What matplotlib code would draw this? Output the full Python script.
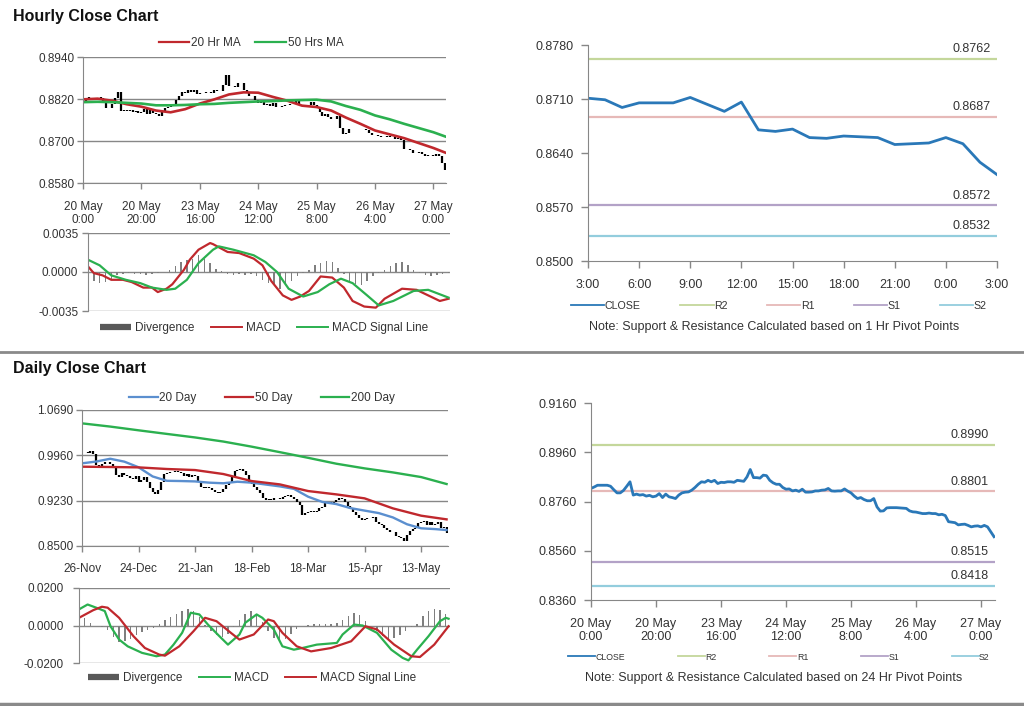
import numpy as np
import matplotlib.pyplot as plt
from matplotlib.lines import Line2D
from matplotlib.ticker import FormatStrFormatter

plt.rcParams['font.family'] = ['Liberation Sans', 'DejaVu Sans']

# ---------------- data ----------------
# hourly closes, 20 May 0:00 -> 27 May ~4:00 (used top-left and bottom-right)
hourly_close = [
    0.8813, 0.8819, 0.8826, 0.8826, 0.8826, 0.8826, 0.8822, 0.8808, 0.8795, 0.8795,
    0.8805, 0.8822, 0.8840, 0.8786, 0.8790, 0.8786, 0.8788, 0.8782, 0.8785, 0.8779,
    0.8782, 0.8792, 0.8776, 0.8790, 0.8779, 0.8776, 0.8772, 0.8786, 0.8795, 0.8798,
    0.8799, 0.8806, 0.8817, 0.8830, 0.8840, 0.8838, 0.8846, 0.8840, 0.8846, 0.8833,
    0.8838, 0.8837, 0.8840, 0.8840, 0.8838, 0.8846, 0.8844, 0.8842, 0.8860, 0.8890,
    0.8857, 0.8857, 0.8855, 0.8867, 0.8865, 0.8846, 0.8836, 0.8830, 0.8830, 0.8817,
    0.8810, 0.8811, 0.8803, 0.8806, 0.8801, 0.8810, 0.8798, 0.8798, 0.8799, 0.8803,
    0.8803, 0.8806, 0.8807, 0.8813, 0.8803, 0.8802, 0.8803, 0.8803, 0.8811, 0.8802,
    0.8795, 0.8782, 0.8772, 0.8776, 0.8768, 0.8763, 0.8763, 0.8772, 0.8738, 0.8721,
    0.8722, 0.8734, 0.8735, 0.8735, 0.8735, 0.8734, 0.8733, 0.8732, 0.8722, 0.8718,
    0.8717, 0.8714, 0.8711, 0.8711, 0.8713, 0.8711, 0.8711, 0.8706, 0.8708, 0.8703,
    0.8678, 0.8676, 0.8674, 0.8665, 0.8667, 0.8668, 0.8663, 0.8657, 0.8660, 0.8661,
    0.8657, 0.8663, 0.8657, 0.8637, 0.8617]
hourly_tick_pos = [0, 20, 40, 60, 80, 100, 120]
hourly_tick_labels = ['20 May\n0:00', '20 May\n20:00', '23 May\n16:00', '24 May\n12:00',
                      '25 May\n8:00', '26 May\n4:00', '27 May\n0:00']

hr_ma_pos = [0, 5, 10, 15, 20, 25, 30, 35, 40, 45, 50, 55, 60, 65, 70, 75, 80, 85, 90,
             95, 100, 105, 110, 115, 120, 124]
hr_ma20 = [0.8819, 0.8821, 0.8815, 0.8805, 0.8798, 0.8787, 0.8782, 0.8791, 0.8807, 0.8819,
           0.8833, 0.8839, 0.8838, 0.8826, 0.8815, 0.8801, 0.8797, 0.8787, 0.8767, 0.8749,
           0.8730, 0.8719, 0.8708, 0.8694, 0.8680, 0.8667]
hr_ma50 = [0.8811, 0.8812, 0.8811, 0.8809, 0.8807, 0.8802, 0.8802, 0.8803, 0.8805, 0.8806,
           0.8809, 0.8811, 0.8813, 0.8814, 0.8816, 0.8817, 0.8818, 0.8813, 0.8800, 0.8789,
           0.8773, 0.8762, 0.8749, 0.8737, 0.8725, 0.8713]

hr_macd_pos = [0, 2, 5, 8, 12, 15, 19, 22, 24, 27, 29, 33, 35, 38, 42, 43, 48, 52, 57, 60,
               63, 67, 70, 73, 76, 80, 84, 88, 91, 95, 99, 102, 108, 113, 117, 121, 124]
hr_macd = [0.0005, -0.0001, -0.0003, -0.0007, -0.0007, -0.0009, -0.0014, -0.0014, -0.0018,
           -0.0015, -0.0011, 0.0002, 0.0011, 0.0020, 0.0026, 0.0025, 0.0018, 0.0017, 0.0012,
           0.0006, -0.0008, -0.0021, -0.0025, -0.0022, -0.0017, -0.0004, -0.0005, -0.0014,
           -0.0026, -0.0031, -0.0032, -0.0024, -0.0015, -0.0016, -0.0021, -0.0026, -0.0024]
hr_signal_pos = [0, 4, 8, 13, 18, 22, 27, 30, 34, 38, 43, 45, 50, 57, 61, 65, 69, 74, 79,
                 83, 87, 91, 96, 100, 105, 112, 117, 121, 124]
hr_signal = [0.0011, 0.0006, -0.0003, -0.0007, -0.0010, -0.0014, -0.0016, -0.0015, -0.0007,
             0.0008, 0.0020, 0.0023, 0.0020, 0.0015, 0.0009, 0.0000, -0.0015, -0.0022,
             -0.0018, -0.0011, -0.0006, -0.0010, -0.0021, -0.0030, -0.0026, -0.0017,
             -0.0016, -0.0020, -0.0023]
# divergence, every second hour
hr_div = [-0.0004, -0.0008, -0.0010, -0.0009, -0.0006, -0.0003, -0.0002, -0.0001, -0.0002,
          -0.0002, -0.0003, -0.0002, -0.0001, 0.0000, 0.0002, 0.0005, 0.0009, 0.0011, 0.0012,
          0.0015, 0.0012, 0.0008, 0.0003, 0.0001, -0.0002, -0.0003, -0.0002, -0.0003,
          -0.0002, -0.0004, -0.0007, -0.0010, -0.0012, -0.0015, -0.0012, -0.0008, -0.0004,
          -0.0001, 0.0002, 0.0006, 0.0008, 0.0010, 0.0009, 0.0004, -0.0002, -0.0008,
          -0.0011, -0.0012, -0.0008, -0.0004, -0.0001, 0.0002, 0.0005, 0.0008, 0.0009,
          0.0006, 0.0002, -0.0001, -0.0003, -0.0004, -0.0003, -0.0002, -0.0001]

# last 24 hours (top right)
last24_close = [0.8711, 0.8709, 0.8699, 0.8705, 0.8705, 0.8705, 0.8712, 0.8703, 0.8694,
                0.8706, 0.8670, 0.8668, 0.8671, 0.8660, 0.8659, 0.8662, 0.8661, 0.8660,
                0.8651, 0.8652, 0.8653, 0.8660, 0.8652, 0.8628, 0.8612]
last24_labels = ['3:00', '6:00', '9:00', '12:00', '15:00', '18:00', '21:00', '0:00', '3:00']
level_names = ['R2', 'R1', 'S1', 'S2']
level_colors = ['#c4d79b', '#e6b9b8', '#b3a2c7', '#93cddd']
pivots_1h = [0.8762, 0.8687, 0.8572, 0.8532]
pivots_24h = [0.8990, 0.8801, 0.8515, 0.8418]

# daily closes, 26 Nov -> late May
daily_close = [
    1.0008, 1.0019, 0.9992, 1.0029, 0.9976, 0.9804, 0.9761, 0.9815, 0.9847, 0.9858,
    0.9815, 0.9750, 0.9643, 0.9616, 0.9670, 0.9643, 0.9632, 0.9589, 0.9578, 0.9632,
    0.9535, 0.9562, 0.9616, 0.9535, 0.9428, 0.9364, 0.9331, 0.9401, 0.9535, 0.9654,
    0.9670, 0.9686, 0.9697, 0.9707, 0.9697, 0.9670, 0.9632, 0.9654, 0.9616, 0.9643,
    0.9632, 0.9546, 0.9455, 0.9439, 0.9455, 0.9428, 0.9401, 0.9374, 0.9348, 0.9364,
    0.9417, 0.9482, 0.9535, 0.9632, 0.9707, 0.9723, 0.9739, 0.9707, 0.9643, 0.9535,
    0.9492, 0.9455, 0.9401, 0.9348, 0.9267, 0.9240, 0.9256, 0.9240, 0.9267, 0.9278,
    0.9256, 0.9294, 0.9310, 0.9321, 0.9294, 0.9256, 0.9213, 0.9160, 0.8999, 0.9025,
    0.9041, 0.9063, 0.9041, 0.9063, 0.9106, 0.9133, 0.9187, 0.9213, 0.9197, 0.9213,
    0.9240, 0.9278, 0.9256, 0.9213, 0.9149, 0.9095, 0.9052, 0.8999, 0.8955, 0.8918,
    0.8934, 0.8945, 0.8955, 0.8972, 0.8881, 0.8848, 0.8837, 0.8794, 0.8757, 0.8730,
    0.8719, 0.8665, 0.8649, 0.8622, 0.8579, 0.8676, 0.8741, 0.8773, 0.8794, 0.8864,
    0.8891, 0.8902, 0.8837, 0.8881, 0.8837, 0.8848, 0.8891, 0.8794, 0.8810, 0.8703]
daily_tick_pos = [0, 20, 40, 60, 80, 100, 120]
daily_tick_labels = ['26-Nov', '24-Dec', '21-Jan', '18-Feb', '18-Mar', '15-Apr', '13-May']

d_ma_pos = [0, 10, 20, 30, 40, 50, 60, 70, 80, 90, 100, 110, 120, 129]
d_ma200 = [1.0475, 1.0423, 1.0363, 1.0305, 1.0248, 1.0182, 1.0100, 1.0011, 0.9920, 0.9825,
           0.9750, 0.9685, 0.9610, 0.9498]
d_ma50 = [0.9777, 0.9772, 0.9766, 0.9740, 0.9723, 0.9659, 0.9546, 0.9492, 0.9385, 0.9331,
          0.9267, 0.9106, 0.8988, 0.8929]
d_ma20_pos = [0, 5, 10, 15, 20, 25, 30, 35, 40, 45, 50, 55, 60, 65, 70, 75, 80, 85, 90, 95,
              100, 105, 110, 115, 120, 125, 129]
d_ma20 = [0.9831, 0.9860, 0.9905, 0.9858, 0.9768, 0.9620, 0.9550, 0.9546, 0.9540, 0.9520,
          0.9510, 0.9535, 0.9520, 0.9490, 0.9460, 0.9420, 0.9294, 0.9210, 0.9175, 0.9110,
          0.9070, 0.9030, 0.8960, 0.8850, 0.8785, 0.8772, 0.8757]

d_macd_pos = [0, 3, 6, 9, 11, 14, 17, 22, 27, 30, 33, 36, 39, 42, 45, 49, 52, 56, 58, 62,
              64, 68, 71, 75, 78, 83, 90, 92, 96, 99, 104, 109, 113, 115, 118, 122, 126, 128, 129]
d_macd = [0.0086, 0.0112, 0.0095, 0.0077, -0.0004, -0.0075, -0.0111, -0.0146, -0.0164,
          -0.0155, -0.0102, -0.0039, 0.0068, 0.0059, 0.0005, -0.0057, -0.0102, -0.0048,
          0.0014, 0.0059, 0.0041, -0.0021, -0.0111, -0.0129, -0.0120, -0.0102, -0.0093,
          -0.0048, 0.0005, 0.0000, -0.0039, -0.0129, -0.0173, -0.0186, -0.0129, -0.0057,
          0.0023, 0.0041, 0.0036]
d_signal_pos = [0, 5, 8, 10, 14, 19, 23, 28, 30, 35, 40, 44, 48, 53, 56, 61, 66, 68, 71, 76,
                81, 88, 95, 100, 104, 110, 116, 119, 124, 129]
d_signal = [0.0041, 0.0082, 0.0100, 0.0095, 0.0041, -0.0057, -0.0120, -0.0155, -0.0161,
            -0.0111, -0.0030, 0.0041, 0.0023, -0.0039, -0.0075, -0.0048, 0.0032, 0.0023,
            -0.0039, -0.0111, -0.0138, -0.0120, -0.0084, -0.0004, -0.0021, -0.0102, -0.0164,
            -0.0168, -0.0102, -0.0004]
# divergence, every second day
d_div = [0.0045, 0.0040, 0.0015, -0.0005, -0.0010, -0.0025, -0.0060, -0.0090, -0.0085,
         -0.0070, -0.0050, -0.0035, -0.0025, -0.0012, 0.0010, 0.0030, 0.0045, 0.0060, 0.0075,
         0.0090, 0.0080, 0.0045, 0.0005, -0.0030, -0.0050, -0.0060, -0.0045, -0.0010, 0.0030,
         0.0060, 0.0075, 0.0060, 0.0020, -0.0030, -0.0065, -0.0080, -0.0070, -0.0045,
         -0.0020, -0.0005, 0.0005, 0.0010, 0.0010, 0.0008, 0.0010, 0.0015, 0.0030, 0.0050,
         0.0065, 0.0055, 0.0025, -0.0005, -0.0030, -0.0055, -0.0070, -0.0065, -0.0050,
         -0.0030, -0.0010, 0.0010, 0.0050, 0.0075, 0.0088, 0.0085, 0.0060]

# ---------------- styling ----------------
W, H = 1024, 706
GRID = '#878787'
TXT = '#333333'
RED = '#c0282d'
GREEN = '#2bb04f'
BLUE_MA = '#5b8fcf'
CLOSE_BLUE = '#2a78b8'
DIV_GRAY = '#7f7f7f'


def box(x0, y0, x1, y1):
    # pixel box -> figure fraction rect
    return [x0 / W, 1 - y1 / H, (x1 - x0) / W, (y1 - y0) / H]


def base_style(ax, labelsize=8.5):
    for s in ['top', 'right']:
        ax.spines[s].set_visible(False)
    for s in ['left', 'bottom']:
        ax.spines[s].set_color(GRID)
    ax.tick_params(colors=GRID, labelcolor=TXT, labelsize=labelsize, length=4, width=1)
    ax.yaxis.set_major_formatter(FormatStrFormatter('%.4f'))


def price_bars(ax, close):
    # open = previous close -> vertical bar to the close
    c = np.asarray(close)
    x = np.arange(1, len(c))
    ax.vlines(x, c[:-1], c[1:], color='black', lw=1.6)


fig = plt.figure(figsize=(W / 100, H / 100), dpi=100)

fig.text(13 / W, 1 - 16 / H, 'Hourly Close Chart', fontsize=11.5, fontweight='bold',
         va='center', ha='left', color='#111111')
fig.text(13 / W, 1 - 369 / H, 'Daily Close Chart', fontsize=11.5, fontweight='bold',
         va='center', ha='left', color='#111111')
for yy, lw in [(352, 2.0), (704, 2.5)]:
    fig.add_artist(Line2D([0, 1], [1 - yy / H] * 2, color='#8a8a8a', lw=lw,
                          transform=fig.transFigure))

# ---- hourly price ----
ax = fig.add_axes(box(83, 57, 446, 183))
base_style(ax)
price_bars(ax, hourly_close)
ax.plot(hr_ma_pos, hr_ma20, color=RED, lw=1.9)
ax.plot(hr_ma_pos, hr_ma50, color=GREEN, lw=1.9)
ax.set_xlim(0, 124.3)
ax.set_ylim(0.858, 0.894)
ax.set_yticks([0.858, 0.870, 0.882, 0.894])
ax.set_xticks(hourly_tick_pos)
ax.set_xticklabels(hourly_tick_labels, linespacing=1.15)
ax.tick_params(axis='x', pad=9)
ax.tick_params(axis='y', pad=2)
ax.yaxis.grid(True, color=GRID, lw=1)
ax.set_axisbelow(True)
fig.legend([Line2D([], [], color=RED, lw=1.6), Line2D([], [], color=GREEN, lw=1.6)],
           ['20 Hr MA', '50 Hrs MA'], loc='center', bbox_to_anchor=(251 / W, 1 - 43 / H),
           ncol=2, frameon=False, fontsize=8.5, handlelength=2.6, handletextpad=0.15,
           columnspacing=1.2, labelcolor=TXT)

# ---- hourly MACD ----
ax = fig.add_axes(box(88, 233, 450, 311))
base_style(ax)
ax.spines['bottom'].set_visible(False)
ax.bar(np.arange(0, 125, 2), hr_div, width=0.5, color=DIV_GRAY)
ax.plot(hr_macd_pos, hr_macd, color=RED, lw=1.6)
ax.plot(hr_signal_pos, hr_signal, color=GREEN, lw=1.6)
ax.set_xlim(0, 124.5)
ax.set_ylim(-0.0035, 0.0035)
ax.set_yticks([-0.0035, 0.0, 0.0035])
ax.set_xticks([])
ax.tick_params(axis='y', pad=3)
ax.yaxis.grid(True, color=GRID, lw=1)
ax.set_axisbelow(True)
fig.legend([Line2D([], [], color='#595959', lw=4.5, solid_capstyle='butt'),
            Line2D([], [], color=RED, lw=1.4), Line2D([], [], color=GREEN, lw=1.4)],
           ['Divergence', 'MACD', 'MACD Signal Line'], loc='center',
           bbox_to_anchor=(264 / W, 1 - 328 / H), ncol=3, frameon=False, fontsize=8.5,
           handlelength=2.6, handletextpad=0.35, columnspacing=1.4, labelcolor=TXT)

# ---- daily price ----
ax = fig.add_axes(box(82, 410, 448, 546))
base_style(ax, labelsize=8.5)
price_bars(ax, daily_close)
ax.plot(d_ma20_pos, d_ma20, color=BLUE_MA, lw=1.7)
ax.plot(d_ma_pos, d_ma50, color=RED, lw=1.7)
ax.plot(d_ma_pos, d_ma200, color=GREEN, lw=1.7)
ax.set_xlim(0, 129.5)
ax.set_ylim(0.85, 1.069)
ax.set_yticks([0.850, 0.923, 0.996, 1.069])
ax.set_xticks(daily_tick_pos)
ax.set_xticklabels(daily_tick_labels)
ax.tick_params(axis='x', pad=8)
ax.tick_params(axis='y', pad=2)
ax.yaxis.grid(True, color=GRID, lw=1)
ax.set_axisbelow(True)
fig.legend([Line2D([], [], color=BLUE_MA, lw=1.6), Line2D([], [], color=RED, lw=1.6),
            Line2D([], [], color=GREEN, lw=1.6)],
           ['20 Day', '50 Day', '200 Day'], loc='center', bbox_to_anchor=(262 / W, 1 - 398 / H),
           ncol=3, frameon=False, fontsize=8.5, handlelength=2.4, handletextpad=0.15,
           columnspacing=2.4, labelcolor=TXT)

# ---- daily MACD ----
ax = fig.add_axes(box(79, 588, 450, 663))
base_style(ax)
ax.spines['bottom'].set_visible(False)
ax.bar(np.arange(0, 130, 2), d_div, width=0.5, color=DIV_GRAY)
ax.plot(d_macd_pos, d_macd, color=GREEN, lw=1.6)
ax.plot(d_signal_pos, d_signal, color=RED, lw=1.6)
ax.set_xlim(0, 129.5)
ax.set_ylim(-0.02, 0.02)
ax.set_yticks([-0.02, 0.0, 0.02])
ax.set_xticks([])
ax.tick_params(axis='y', pad=7)
ax.yaxis.grid(True, color=GRID, lw=1)
ax.set_axisbelow(True)
fig.legend([Line2D([], [], color='#595959', lw=4.5, solid_capstyle='butt'),
            Line2D([], [], color=GREEN, lw=1.4), Line2D([], [], color=RED, lw=1.4)],
           ['Divergence', 'MACD', 'MACD Signal Line'], loc='center',
           bbox_to_anchor=(252 / W, 1 - 678 / H), ncol=3, frameon=False, fontsize=8.5,
           handlelength=2.6, handletextpad=0.35, columnspacing=1.4, labelcolor=TXT)


# ---- pivot charts (right) ----
def pivot_chart(rect, xs, close, levels, xlim, ylim, yticks, xticks, xlabels,
                leg_y, leg_fs, leg_space, note, note_y):
    ax = fig.add_axes(rect)
    base_style(ax, labelsize=9)
    ax.tick_params(length=5)
    handles = [Line2D([], [], color=CLOSE_BLUE, lw=1.3)]
    for lvl, col in zip(levels, level_colors):
        ax.axhline(lvl, color=col, lw=1.6)
        ax.text(0.985, lvl + (ylim[1] - ylim[0]) * 0.018, '%.4f' % lvl,
                transform=ax.get_yaxis_transform(), ha='right', va='bottom',
                fontsize=9, color=TXT)
        handles.append(Line2D([], [], color=col, lw=1.3))
    ax.plot(xs, close, color=CLOSE_BLUE, lw=2.0)
    ax.set_xlim(*xlim)
    ax.set_ylim(*ylim)
    ax.set_yticks(yticks)
    ax.set_xticks(xticks)
    ax.set_xticklabels(xlabels, linespacing=1.1)
    ax.tick_params(axis='x', pad=8)
    ax.tick_params(axis='y', pad=5)
    fig.legend(handles, ['CLOSE'] + level_names, loc='center',
               bbox_to_anchor=(779 / W, 1 - leg_y / H), ncol=5, frameon=False,
               fontsize=leg_fs, handlelength=3.1, handletextpad=0.05,
               columnspacing=leg_space, labelcolor=TXT)
    fig.text(774 / W, 1 - note_y / H, note, ha='center', va='center', fontsize=9, color=TXT)
    return ax


pivot_chart(box(588, 45, 997, 261), np.arange(len(last24_close)), last24_close, pivots_1h,
            (0, 24), (0.85, 0.878), [0.850, 0.857, 0.864, 0.871, 0.878],
            list(range(0, 25, 3)), last24_labels, 306, 7.7, 3.7,
            'Note: Support & Resistance Calculated based on 1 Hr Pivot Points', 327)

pivot_chart(box(591, 403, 995, 600), np.arange(len(hourly_close)), hourly_close, pivots_24h,
            (0, 124.3), (0.836, 0.916), [0.836, 0.856, 0.876, 0.896, 0.916],
            hourly_tick_pos, hourly_tick_labels, 657, 6.3, 6.0,
            'Note: Support & Resistance Calculated based on 24 Hr Pivot Points', 678)

fig.savefig('out.png', dpi=100, facecolor='white')
